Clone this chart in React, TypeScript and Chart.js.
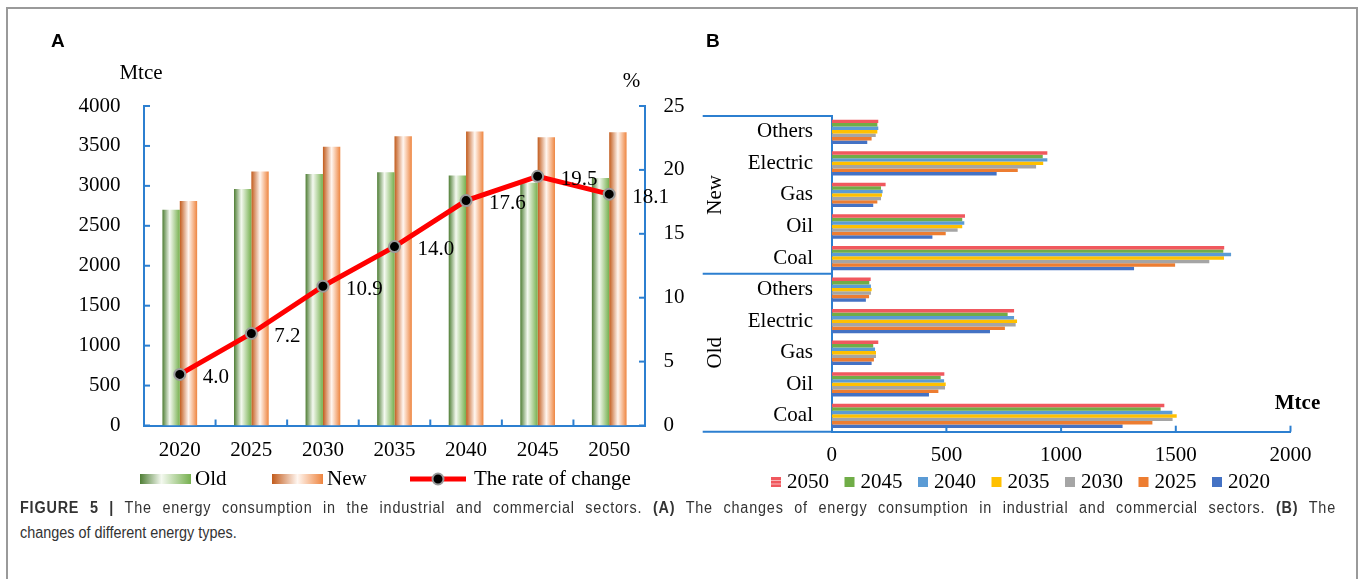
import React, { useEffect, useRef } from 'react';
import { Chart, registerables } from 'chart.js';

Chart.register(...registerables);

// ---------- Panel A data ----------
const yearsA = ['2020', '2025', '2030', '2035', '2040', '2045', '2050'];
const oldValues = [2700, 2960, 3150, 3170, 3130, 3040, 3100];
const newValues = [2810, 3180, 3490, 3620, 3680, 3610, 3670];
const rateValues = [4.0, 7.2, 10.9, 14.0, 17.6, 19.5, 18.1];
const leftTicksA = [0, 500, 1000, 1500, 2000, 2500, 3000, 3500, 4000];
const rightTicksA = [0, 5, 10, 15, 20, 25];
const seriesNamesA = ['Old', 'New', 'The rate of change'];

// ---------- Panel B data ----------
const categoriesB = ['Others', 'Electric', 'Gas', 'Oil', 'Coal', 'Others', 'Electric', 'Gas', 'Oil', 'Coal'];
const groupsB = ['New', 'Old'];
const yearsB = ['2050', '2045', '2040', '2035', '2030', '2025', '2020'];
const v2050 = [203, 940, 235, 581, 1711, 170, 795, 203, 491, 1450];
const v2045 = [199, 920, 215, 569, 1707, 164, 767, 181, 475, 1434];
const v2040 = [203, 940, 222, 578, 1741, 171, 795, 189, 490, 1485];
const v2035 = [199, 922, 219, 569, 1710, 174, 808, 193, 497, 1504];
const v2030 = [192, 891, 215, 549, 1646, 171, 802, 193, 494, 1486];
const v2025 = [174, 811, 199, 497, 1497, 163, 755, 184, 465, 1398];
const v2020 = [155, 719, 181, 439, 1318, 149, 690, 174, 424, 1268];
const ticksB = [0, 500, 1000, 1500, 2000];

// ---------- styles ----------
const SERIF = "'Liberation Serif', 'Times New Roman', serif";
const SANS = "'Liberation Sans', Arial, sans-serif";
const BLUE = '#2c7fd0';
const OLD_STOPS: [number, string][] = [[0, '#4f7e35'], [0.42, '#f4f9f0'], [1, '#76b04f']];
const NEW_STOPS: [number, string][] = [[0, '#c25b1c'], [0.5, '#fff6f0'], [1, '#ee8540']];
const COLORS_B = ['#f0585e', '#70ad47', '#5b9bd5', '#ffc000', '#a5a5a5', '#ed7d31', '#4472c4'];
const CAT_A = 0.485;
const CAPTION_SCALE = 0.9;

function line(ctx: CanvasRenderingContext2D, x1: number, y1: number, x2: number, y2: number) {
  ctx.beginPath();
  ctx.moveTo(x1, y1);
  ctx.lineTo(x2, y2);
  ctx.stroke();
}

function gradRect(ctx: CanvasRenderingContext2D, x: number, y: number, w: number, h: number, stops: [number, string][]) {
  const g = ctx.createLinearGradient(x, 0, x + w, 0);
  stops.forEach(([o, c]) => g.addColorStop(o, c));
  ctx.fillStyle = g;
  ctx.fillRect(x, y, w, h);
}

function barGradient(stops: [number, string][], slotIndex: number) {
  const fallback = stops[stops.length - 1][1];
  return (c: any) => {
    const chart = c.chart;
    const xs = chart && chart.scales && chart.scales.x;
    if (!xs || typeof c.dataIndex !== 'number') return fallback;
    const W = xs.width / yearsA.length;
    const slot = (W * CAT_A) / 2;
    const cx = xs.getPixelForValue(c.dataIndex) - (W * CAT_A) / 2 + slot * (slotIndex + 0.5);
    if (!Number.isFinite(cx) || !Number.isFinite(slot) || slot <= 0) return fallback;
    const g = chart.ctx.createLinearGradient(cx - slot / 2, 0, cx + slot / 2, 0);
    stops.forEach(([o, col]) => g.addColorStop(o, col));
    return g;
  };
}

const decorA = {
  id: 'decorA',
  afterDraw(chart: any) {
    const { ctx, chartArea: ca, scales } = chart;
    ctx.save();
    ctx.strokeStyle = BLUE;
    ctx.lineWidth = 2;
    leftTicksA.forEach((v) => {
      const y = scales.y.getPixelForValue(v);
      line(ctx, ca.left, y, ca.left + 6, y);
    });
    rightTicksA.forEach((v) => {
      const y = scales.y1.getPixelForValue(v);
      line(ctx, ca.right - 6, y, ca.right, y);
    });
    const W = (ca.right - ca.left) / yearsA.length;
    for (let i = 1; i < yearsA.length; i++) {
      const x = ca.left + W * i;
      line(ctx, x, ca.bottom, x, ca.bottom - 6);
    }

    // data labels
    ctx.fillStyle = '#000';
    ctx.font = `21px ${SERIF}`;
    ctx.textAlign = 'left';
    ctx.textBaseline = 'middle';
    const meta = chart.getDatasetMeta(2);
    meta.data.forEach((pt: any, i: number) => {
      ctx.fillText(rateValues[i].toFixed(1), pt.x + 23, pt.y + 3);
    });

    // axis titles
    ctx.textAlign = 'center';
    ctx.fillText('Mtce', 141, 73);
    ctx.fillText('%', 631.5, 81);
    ctx.font = `bold 19px ${SANS}`;
    ctx.textAlign = 'left';
    ctx.fillText('A', 51, 42);

    // legend
    const ly = 479;
    gradRect(ctx, 140, ly - 5, 51, 10, OLD_STOPS);
    gradRect(ctx, 272, ly - 5, 51, 10, NEW_STOPS);
    ctx.strokeStyle = '#ff0000';
    ctx.lineWidth = 5;
    line(ctx, 410, ly, 466, ly);
    ctx.beginPath();
    ctx.arc(438, ly, 5.5, 0, Math.PI * 2);
    ctx.fillStyle = '#000';
    ctx.fill();
    ctx.lineWidth = 2;
    ctx.strokeStyle = '#9a9a9a';
    ctx.stroke();
    ctx.fillStyle = '#000';
    ctx.font = `21px ${SERIF}`;
    ctx.textAlign = 'left';
    ctx.fillText(seriesNamesA[0], 195, ly);
    ctx.fillText(seriesNamesA[1], 327, ly);
    ctx.fillText(seriesNamesA[2], 474, ly);
    ctx.restore();
  },
};

const decorB = {
  id: 'decorB',
  afterDraw(chart: any) {
    const { ctx, chartArea: ca, scales } = chart;
    const ys = scales.y;
    const xs = scales.x;
    ctx.save();
    ctx.strokeStyle = BLUE;
    ctx.lineWidth = 2;
    const leftX = 12.7;
    const midY = (ys.getPixelForValue(4) + ys.getPixelForValue(5)) / 2;
    line(ctx, leftX, ca.top, ca.left, ca.top);
    line(ctx, leftX, midY, ca.left, midY);
    line(ctx, leftX, ca.bottom, ca.left, ca.bottom);
    ticksB.slice(1).forEach((v) => {
      const x = xs.getPixelForValue(v);
      line(ctx, x, ca.bottom, x, ca.bottom - 6);
    });

    ctx.fillStyle = '#000';
    ctx.font = `21px ${SERIF}`;
    ctx.textAlign = 'center';
    ctx.textBaseline = 'middle';
    const groupCenters = [(ca.top + midY) / 2, (midY + ca.bottom) / 2];
    groupsB.forEach((g, i) => {
      ctx.save();
      ctx.translate(25.5, groupCenters[i]);
      ctx.rotate(-Math.PI / 2);
      ctx.fillText(g, 0, 0);
      ctx.restore();
    });

    ctx.font = `bold 21px ${SERIF}`;
    ctx.fillText('Mtce', 607.5, 404);

    ctx.font = `bold 19px ${SANS}`;
    ctx.textAlign = 'left';
    ctx.fillText('B', 16, 42);

    // legend
    const ly = 482;
    ctx.font = `21px ${SERIF}`;
    yearsB.forEach((yr, i) => {
      const sx = 81 + 73.5 * i;
      ctx.fillStyle = COLORS_B[i];
      ctx.fillRect(sx, ly - 5, 10, 10);
      if (i === 0) {
        ctx.fillStyle = '#f9b5b7';
        ctx.fillRect(sx, ly - 2, 10, 1);
        ctx.fillRect(sx, ly + 1.5, 10, 1);
      }
      ctx.fillStyle = '#000';
      ctx.fillText(yr, sx + 16, ly);
    });
    ctx.restore();
  },
};

export default function App() {
  const refA = useRef<HTMLCanvasElement>(null);
  const refB = useRef<HTMLCanvasElement>(null);

  useEffect(() => {
    const tickFont = { family: SERIF, size: 21 };
    const noGrid = { display: false, drawTicks: false };
    const chartA = new Chart(refA.current as HTMLCanvasElement, {
      type: 'bar',
      data: {
        labels: yearsA,
        datasets: [
          {
            type: 'bar',
            label: seriesNamesA[0],
            data: oldValues,
            yAxisID: 'y',
            backgroundColor: barGradient(OLD_STOPS, 0),
            categoryPercentage: CAT_A,
            barPercentage: 1,
            order: 1,
          } as any,
          {
            type: 'bar',
            label: seriesNamesA[1],
            data: newValues,
            yAxisID: 'y',
            backgroundColor: barGradient(NEW_STOPS, 1),
            categoryPercentage: CAT_A,
            barPercentage: 1,
            order: 1,
          } as any,
          {
            type: 'line',
            label: seriesNamesA[2],
            data: rateValues,
            yAxisID: 'y1',
            borderColor: '#ff0000',
            borderWidth: 5,
            pointRadius: 5.5,
            pointBackgroundColor: '#000',
            pointBorderColor: '#9a9a9a',
            pointBorderWidth: 2,
            tension: 0,
            order: 0,
          } as any,
        ],
      },
      options: {
        responsive: false,
        animation: false,
        layout: { padding: { left: 0, right: 0, top: 106, bottom: 34.5 } },
        plugins: { legend: { display: false }, tooltip: { enabled: false } },
        scales: {
          x: {
            type: 'category',
            offset: true,
            grid: noGrid,
            border: { display: true, color: BLUE, width: 2 },
            ticks: { font: tickFont, color: '#000', padding: 12.5, maxRotation: 0, autoSkip: false },
            afterFit: (s: any) => { s.height = 40; },
          },
          y: {
            position: 'left',
            min: 0,
            max: 4000,
            grid: noGrid,
            border: { display: true, color: BLUE, width: 2 },
            ticks: { stepSize: 500, font: tickFont, color: '#000', padding: 23.5, callback: (v: any) => String(v) },
            afterFit: (s: any) => { s.width = 144; },
          },
          y1: {
            position: 'right',
            min: 0,
            max: 25,
            grid: noGrid,
            border: { display: true, color: BLUE, width: 2 },
            ticks: { stepSize: 5, font: tickFont, color: '#000', padding: 18.5, callback: (v: any) => String(v) },
            afterFit: (s: any) => { s.width = 55; },
          },
        },
      } as any,
      plugins: [decorA],
    });

    const seriesB = [v2050, v2045, v2040, v2035, v2030, v2025, v2020];
    const chartB = new Chart(refB.current as HTMLCanvasElement, {
      type: 'bar',
      data: {
        labels: categoriesB,
        datasets: yearsB.map((yr, i) => ({
          label: yr,
          data: seriesB[i],
          backgroundColor: COLORS_B[i],
          categoryPercentage: 0.77,
          barPercentage: 1,
        })),
      },
      options: {
        indexAxis: 'y',
        responsive: false,
        animation: false,
        layout: { padding: { left: 0, right: 67.5, top: 116, bottom: 28.3 } },
        plugins: { legend: { display: false }, tooltip: { enabled: false } },
        scales: {
          y: {
            type: 'category',
            grid: noGrid,
            border: { display: true, color: BLUE, width: 2 },
            ticks: { font: tickFont, color: '#000', padding: 18.7, autoSkip: false },
            afterFit: (s: any) => { s.width = 141.7; },
          },
          x: {
            type: 'linear',
            min: 0,
            max: 2000,
            grid: noGrid,
            border: { display: true, color: BLUE, width: 2 },
            ticks: { stepSize: 500, font: tickFont, color: '#000', padding: 11.3, callback: (v: any) => String(v) },
            afterFit: (s: any) => { s.height = 40; },
          },
        },
      } as any,
      plugins: [decorB],
    });

    return () => {
      chartA.destroy();
      chartB.destroy();
    };
  }, []);

  const captionStyle: React.CSSProperties = {
    position: 'absolute',
    left: 20,
    fontFamily: SANS,
    fontSize: 16,
    lineHeight: '25px',
    color: '#333',
    whiteSpace: 'nowrap',
    transform: `scaleX(${CAPTION_SCALE})`,
    transformOrigin: 'left top',
  };

  return (
    <div style={{ position: 'absolute', left: 0, top: 0, width: 1358, height: 579, overflow: 'hidden', background: '#fff' }}>
      <div style={{ position: 'absolute', left: 6, top: 7, width: 1348, height: 640, border: '2px solid #9a9a9a' }} />
      <canvas ref={refB} width={668} height={500} style={{ position: 'absolute', left: 690, top: 0 }} />
      <canvas ref={refA} width={700} height={500} style={{ position: 'absolute', left: 0, top: 0 }} />
      <div
        style={{
          ...captionStyle,
          top: 495,
          width: 1316 / CAPTION_SCALE,
          letterSpacing: '0.9px',
          textAlign: 'justify',
          textAlignLast: 'justify',
        }}
      >
        <b>FIGURE 5 |</b> The energy consumption in the industrial and commercial sectors. <b>(A)</b> The changes of energy
        consumption in industrial and commercial sectors. <b>(B)</b> The
      </div>
      <div style={{ ...captionStyle, top: 520 }}>changes of different energy types.</div>
    </div>
  );
}
